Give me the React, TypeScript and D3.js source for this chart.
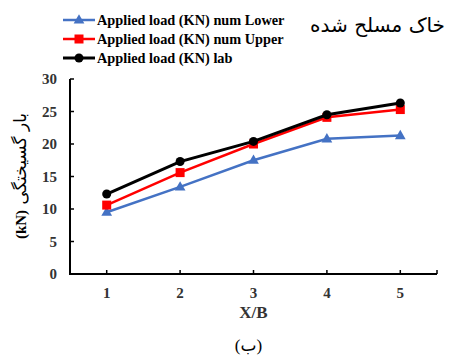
import React from "react";
import * as d3 from "d3";

// X/B positions
const categories = [1, 2, 3, 4, 5];
// Applied load (kN) per series
const lowerValues = [9.5, 13.4, 17.5, 20.8, 21.3];
const upperValues = [10.6, 15.6, 20.0, 24.1, 25.3];
const labValues = [12.3, 17.3, 20.4, 24.5, 26.3];
const yTicks = [0, 5, 10, 15, 20, 25, 30];
const seriesNames = [
  "Applied load (KN) num Lower",
  "Applied load (KN) num Upper",
  "Applied load (KN) lab",
];

const W = 449;
const H = 356;
const serif = "Liberation Serif, DejaVu Serif, serif";
const arabic = "DejaVu Sans, sans-serif";

export default function App() {
  const x = d3.scaleLinear().domain([0.5, 5.5]).range([70, 437]);
  const y = d3.scaleLinear().domain([0, 30]).range([274, 79]);
  const line = d3
    .line<number>()
    .x((_, i) => x(categories[i]))
    .y((d) => y(d));

  const series = [
    { name: seriesNames[0], values: lowerValues, color: "#4472C4", marker: "triangle", width: 2.5 },
    { name: seriesNames[1], values: upperValues, color: "#FF0000", marker: "square", width: 2.5 },
    { name: seriesNames[2], values: labValues, color: "#000000", marker: "circle", width: 3 },
  ];

  const marker = (kind: string, cx: number, cy: number, color: string, key?: any) => {
    if (kind === "circle") return <circle key={key} cx={cx} cy={cy} r={4.5} fill={color} />;
    if (kind === "square")
      return <rect key={key} x={cx - 4.5} y={cy - 4.5} width={9} height={9} fill={color} />;
    const tri = d3.symbol().type(d3.symbolTriangle).size(50)();
    return <path key={key} d={tri || ""} transform={`translate(${cx},${cy + 0.5})`} fill={color} />;
  };

  const xTickPositions = [...categories, 5.5];

  return (
    <svg
      width={W}
      height={H}
      style={{ position: "absolute", left: 0, top: 0, background: "#fff" }}
    >
      {/* legend */}
      {series.map((s, i) => {
        const ly = 20 + i * 19;
        return (
          <g key={s.name}>
            <line x1={63} x2={95} y1={ly} y2={ly} stroke={s.color} strokeWidth={s.width} />
            {marker(s.marker, 79, ly, s.color)}
            <text
              x={97}
              y={ly + 5}
              fontFamily={serif}
              fontWeight="bold"
              fontSize={14.3}
              fill="#000"
            >
              {s.name}
            </text>
          </g>
        );
      })}

      {/* title */}
      <text
        x={445}
        y={32}
        textAnchor="end"
        fontFamily={arabic}
        fontSize={20}
        fill="#000"
      >
        خاک مسلح شده
      </text>

      {/* y axis */}
      <line x1={70} x2={70} y1={y(30)} y2={y(0) + 1} stroke="#000" strokeWidth={2} />
      {yTicks.map((t) => (
        <g key={t}>
          <line x1={70} x2={74} y1={y(t)} y2={y(t)} stroke="#000" strokeWidth={1.5} />
          <text
            x={57}
            y={y(t) + 5}
            textAnchor="end"
            fontFamily={serif}
            fontWeight="bold"
            fontSize={15}
            fill="#333"
          >
            {t}
          </text>
        </g>
      ))}

      {/* x axis */}
      <line x1={69} x2={437} y1={y(0)} y2={y(0)} stroke="#000" strokeWidth={2} />
      {xTickPositions.map((t) => (
        <line key={t} x1={x(t)} x2={x(t)} y1={y(0)} y2={y(0) - 4} stroke="#000" strokeWidth={1.5} />
      ))}
      {categories.map((c) => (
        <text
          key={c}
          x={x(c)}
          y={298}
          textAnchor="middle"
          fontFamily={serif}
          fontWeight="bold"
          fontSize={15}
          fill="#333"
        >
          {c}
        </text>
      ))}
      <text
        x={x(3)}
        y={318}
        textAnchor="middle"
        fontFamily={serif}
        fontWeight="bold"
        fontSize={17}
        fill="#333"
      >
        X/B
      </text>

      {/* y axis title */}
      <text
        transform="translate(26,176) rotate(-90)"
        textAnchor="middle"
        direction="rtl"
        fontFamily={arabic}
        fontSize={17}
        fill="#000"
      >
        <tspan>بار گسیختگی </tspan>
        <tspan fontWeight="bold" fontFamily={serif} fontSize={15}>(kN)</tspan>
      </text>

      {/* series */}
      {series.map((s) => (
        <g key={s.name}>
          <path d={line(s.values) || ""} fill="none" stroke={s.color} strokeWidth={s.width} />
          {s.values.map((v, i) => marker(s.marker, x(categories[i]), y(v), s.color, i))}
        </g>
      ))}

      {/* caption */}
      <text
        x={x(3) - 5}
        y={351}
        textAnchor="middle"
        fontFamily={serif}
        fontSize={17}
        fill="#000"
      >
        (<tspan fontFamily={arabic}>ب</tspan>)
      </text>
    </svg>
  );
}
